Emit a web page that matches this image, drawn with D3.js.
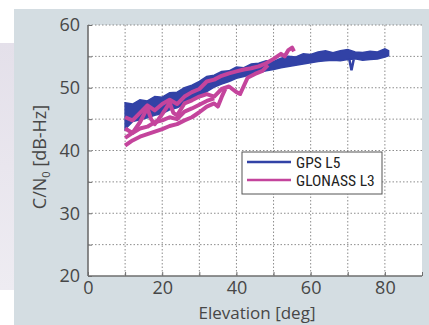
<!DOCTYPE html>
<html>
<head>
<meta charset="utf-8">
<script src="https://cdn.jsdelivr.net/npm/d3@7"></script>
<style>
  html, body { margin: 0; padding: 0; background: #fff; }
  svg { display: block; }
  .tick text { font-family: "Open Sans", "Noto Sans", sans-serif; fill: #474747; }
</style>
</head>
<body>
<div id="chart"></div>
<script>
// elevation samples [deg] for the GPS L5 band
const gpsElev = [10, 12, 14, 16, 18, 20, 22, 24, 26, 28, 30, 32, 34, 36, 38, 40, 42, 44, 46,
                 48, 50, 52, 54, 56, 58, 60, 62, 64, 66, 68, 70, 72, 74, 76, 78, 80, 81];
// upper / lower edge of the GPS L5 C/N0 band [dB-Hz]
const gpsHigh = [47.6, 47.4, 48.1, 47.9, 48.6, 48.5, 49.2, 49.3, 50.0, 50.4, 51.0, 51.8, 52.0, 52.6,
                 52.7, 53.3, 53.2, 53.8, 53.9, 54.3, 54.2, 54.7, 55.0, 54.9, 55.4, 55.3, 55.7, 55.9,
                 55.6, 55.9, 56.1, 55.7, 55.6, 55.8, 55.7, 56.2, 55.9];
const gpsLow  = [43.4, 44.6, 44.9, 45.2, 45.6, 45.9, 46.5, 46.8, 47.4, 47.9, 48.5, 49.4, 50.1, 50.6,
                 51.0, 51.5, 51.8, 52.1, 52.4, 52.7, 52.9, 53.2, 53.4, 53.6, 53.8, 54.0, 54.2, 54.3,
                 54.4, 54.3, 54.5, 54.6, 54.4, 54.5, 54.6, 54.9, 55.1];
// short drop in the GPS trace near 71 deg
const gpsDip = [[70.4, 54.6], [71.0, 52.8], [71.6, 54.5]];

// GLONASS L3 satellite tracks: [elevation, C/N0]
const glonassA = [[10, 40.8], [12, 41.6], [14, 42.2], [16, 42.6], [18, 43.0], [20, 43.4], [22, 43.9],
                  [24, 44.2], [26, 44.8], [28, 45.3], [30, 46.1], [32, 47.0], [34, 47.5], [35, 47.0],
                  [36, 48.5], [37, 49.8]];
const glonassD = [[10, 42.0], [12, 42.8], [14, 43.5], [16, 43.8], [18, 44.5], [20, 44.8], [22, 45.3],
                  [24, 45.0], [26, 46.2], [28, 46.7], [30, 47.3], [32, 47.9], [34, 48.3]];
const glonassB = [[10, 43.5], [12, 42.8], [14, 44.5], [16, 46.8], [17, 45.0], [18, 44.2], [20, 45.8],
                  [22, 47.6], [23, 46.0], [24, 45.6], [26, 47.5], [28, 48.0], [30, 48.6], [32, 49.0],
                  [34, 48.6], [36, 49.8], [38, 50.2], [40, 49.3], [41, 49.0], [43, 51.6], [45, 52.2],
                  [47, 52.7], [48.5, 53.6]];
const glonassC = [[10, 45.3], [12, 44.8], [14, 46.0], [16, 47.2], [18, 46.4], [20, 47.4], [22, 48.1],
                  [24, 47.4], [26, 48.6], [28, 49.3], [30, 49.8], [32, 51.0], [34, 51.3], [36, 51.9],
                  [38, 52.3], [40, 52.6], [42, 52.9], [44, 53.1], [46, 53.4], [48, 53.9], [50, 54.6],
                  [52, 55.4], [53, 55.0], [54, 56.0], [55, 56.4], [55.5, 55.8]];

const yTicks = [20, 25, 30, 35, 40, 45, 50, 55, 60];
const xTicks = [0, 10, 20, 30, 40, 50, 60, 70, 80, 90];
const legendNames = ["GPS L5", "GLONASS L3"];
const colors = { gps: "#3242a6", glonass: "#c4449c" };

const width = 429, height = 325;
const plot = { left: 88, right: 422, top: 25, bottom: 276 };

const svg = d3.select("#chart").append("svg")
  .attr("width", width).attr("height", height);

// left decorative strip and panel background
const grad = svg.append("defs").append("linearGradient")
  .attr("id", "strip").attr("x1", 0).attr("y1", 0).attr("x2", 0).attr("y2", 1);
grad.append("stop").attr("offset", "0%").attr("stop-color", "#e4e0ea");
grad.append("stop").attr("offset", "100%").attr("stop-color", "#eeecf2");
svg.append("rect").attr("x", 0).attr("y", 43).attr("width", 14).attr("height", 247)
  .attr("fill", "url(#strip)");
svg.append("rect").attr("x", 14).attr("y", 9).attr("width", width - 14).attr("height", height - 9)
  .attr("fill", "#d4dde2");

// white plot area
svg.append("rect")
  .attr("x", plot.left).attr("y", plot.top)
  .attr("width", plot.right - plot.left).attr("height", plot.bottom - plot.top)
  .attr("fill", "#fff");

const x = d3.scaleLinear().domain([0, 90]).range([plot.left, plot.right]);
const y = d3.scaleLinear().domain([20, 60]).range([plot.bottom, plot.top]);

// dotted grid
const grid = svg.append("g");
grid.selectAll(".gy").data(yTicks.slice(1)).join("line")
  .attr("x1", plot.left).attr("x2", plot.right)
  .attr("y1", d => y(d)).attr("y2", d => y(d))
  .attr("stroke", "#8c8c8c").attr("stroke-width", 1).attr("stroke-dasharray", "1.5,2");
grid.selectAll(".gx").data(xTicks.slice(1, -1)).join("line")
  .attr("x1", d => x(d)).attr("x2", d => x(d))
  .attr("y1", plot.top).attr("y2", plot.bottom)
  .attr("stroke", "#8c8c8c").attr("stroke-width", 1).attr("stroke-dasharray", "1.5,2");

// GPS L5 band
const band = gpsElev.map((e, i) => ({ e, hi: gpsHigh[i], lo: gpsLow[i] }));
svg.append("path").datum(band)
  .attr("fill", colors.gps).attr("stroke", colors.gps).attr("stroke-width", 1.5)
  .attr("d", d3.area().x(d => x(d.e)).y0(d => y(d.lo)).y1(d => y(d.hi)));
svg.append("path").datum(gpsDip)
  .attr("fill", "none").attr("stroke", colors.gps).attr("stroke-width", 2.5)
  .attr("d", d3.line().x(d => x(d[0])).y(d => y(d[1])));

// GLONASS L3 tracks
const line = d3.line().x(d => x(d[0])).y(d => y(d[1]));
[glonassA, glonassD, glonassB, glonassC].forEach(track => {
  svg.append("path").datum(track)
    .attr("fill", "none").attr("stroke", colors.glonass)
    .attr("stroke-width", 4).attr("stroke-linejoin", "round")
    .attr("d", line);
});

// axes
const yAxis = svg.append("g").attr("transform", `translate(${plot.left},0)`)
  .call(d3.axisLeft(y).tickValues(yTicks).tickSize(-4).tickPadding(8)
    .tickFormat(d => d % 10 === 0 ? d : ""));
const xAxis = svg.append("g").attr("transform", `translate(0,${plot.bottom})`)
  .call(d3.axisBottom(x).tickValues(xTicks).tickSize(-4).tickPadding(5)
    .tickFormat(d => d % 20 === 0 && d < 90 ? d : ""));
[yAxis, xAxis].forEach(a => {
  a.select(".domain").attr("stroke", "#6e6e6e").attr("stroke-width", 1.6);
  a.selectAll(".tick line").attr("stroke", "#6e6e6e");
  a.selectAll(".tick text").attr("font-size", 18);
});
xAxis.select(".domain").attr("d", `M${plot.left},0H${plot.right}`);
yAxis.select(".domain").attr("d", `M0,${plot.bottom}V${plot.top}`);

// axis titles
svg.append("text")
  .attr("x", (plot.left + plot.right) / 2 + 2).attr("y", 319)
  .attr("text-anchor", "middle")
  .attr("font-family", "'Open Sans', 'Noto Sans', sans-serif").attr("font-size", 17)
  .attr("fill", "#474747")
  .text("Elevation [deg]");
const yTitle = svg.append("text")
  .attr("transform", "translate(46,157) rotate(-90)")
  .attr("text-anchor", "middle")
  .attr("font-family", "'Open Sans', 'Noto Sans', sans-serif").attr("font-size", 18)
  .attr("fill", "#474747");
yTitle.append("tspan").text("C/N");
yTitle.append("tspan").attr("font-size", 11).attr("dy", 4).text("0");
yTitle.append("tspan").attr("dy", -4).text(" [dB-Hz]");

// legend
const legend = svg.append("g");
legend.append("rect")
  .attr("x", 242).attr("y", 152).attr("width", 140).attr("height", 42)
  .attr("fill", "#fff").attr("stroke", "#555").attr("stroke-width", 1);
legendNames.forEach((name, i) => {
  const ly = 162 + i * 18;
  legend.append("line")
    .attr("x1", 247).attr("x2", 291).attr("y1", ly).attr("y2", ly)
    .attr("stroke", i === 0 ? colors.gps : colors.glonass).attr("stroke-width", 2.5);
  legend.append("text")
    .attr("x", 296).attr("y", ly + 6)
    .attr("font-family", "'Liberation Sans Narrow', 'Roboto Condensed', sans-serif")
    .attr("font-size", 15.5).attr("fill", "#222")
    .text(name);
});
</script>
</body>
</html>
